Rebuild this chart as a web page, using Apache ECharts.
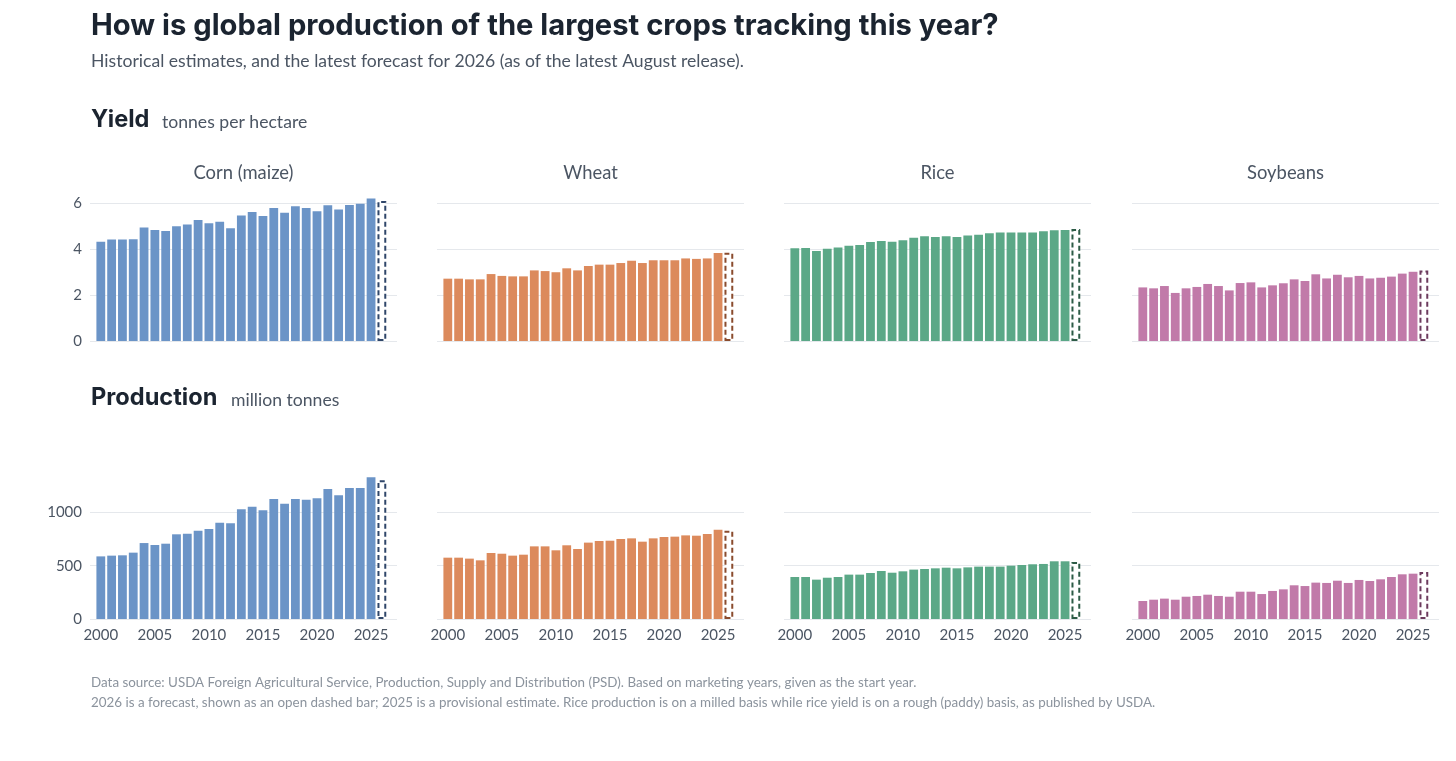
<!DOCTYPE html>
<html>
<head>
<meta charset="utf-8">
<title>Global crop production</title>
<script src="https://cdn.jsdelivr.net/npm/echarts@6/dist/echarts.min.js"></script>
<style>
  html, body { margin: 0; padding: 0; background: #fff; }
  #main { width: 1456px; height: 761px; }
</style>
</head>
<body>
<div id="main"></div>
<script>
// marketing years, 2026 is the forecast
const years = [2000, 2001, 2002, 2003, 2004, 2005, 2006, 2007, 2008, 2009, 2010, 2011, 2012, 2013,
  2014, 2015, 2016, 2017, 2018, 2019, 2020, 2021, 2022, 2023, 2024, 2025, 2026];
const cropNames = ['Corn (maize)', 'Wheat', 'Rice', 'Soybeans'];
const xTickYears = [2000, 2005, 2010, 2015, 2020, 2025];

// yield, tonnes per hectare
const cornYield = [4.32, 4.41, 4.41, 4.42, 4.93, 4.83, 4.78, 4.99, 5.06, 5.26, 5.12, 5.19, 4.90, 5.46,
  5.61, 5.43, 5.78, 5.58, 5.86, 5.78, 5.64, 5.90, 5.72, 5.91, 5.97, 6.20, 6.09];
const wheatYield = [2.71, 2.71, 2.68, 2.68, 2.91, 2.83, 2.81, 2.81, 3.07, 3.04, 2.99, 3.16, 3.07, 3.26,
  3.32, 3.32, 3.39, 3.49, 3.39, 3.51, 3.51, 3.51, 3.59, 3.57, 3.59, 3.83, 3.84];
const riceYield = [4.03, 4.04, 3.91, 4.01, 4.07, 4.14, 4.17, 4.30, 4.35, 4.32, 4.38, 4.49, 4.55, 4.52,
  4.55, 4.52, 4.59, 4.62, 4.68, 4.72, 4.72, 4.72, 4.72, 4.77, 4.81, 4.83, 4.87];
const soyYield = [2.33, 2.29, 2.39, 2.09, 2.29, 2.35, 2.48, 2.39, 2.20, 2.52, 2.55, 2.33, 2.42, 2.51,
  2.68, 2.61, 2.90, 2.72, 2.88, 2.77, 2.83, 2.72, 2.75, 2.80, 2.93, 3.01, 3.06];

// production, million tonnes
const cornProd = [587, 594, 597, 622, 712, 694, 706, 794, 800, 828, 844, 903, 897, 1028,
  1053, 1019, 1125, 1081, 1125, 1119, 1131, 1219, 1159, 1228, 1228, 1328, 1300];
const wheatProd = [575, 575, 566, 550, 619, 612, 594, 603, 681, 681, 644, 691, 656, 716,
  731, 734, 750, 756, 725, 756, 769, 772, 784, 781, 797, 837, 828];
const riceProd = [394, 394, 369, 387, 394, 416, 416, 431, 450, 434, 447, 463, 469, 475,
  481, 475, 484, 491, 491, 491, 500, 506, 513, 516, 541, 541, 534];
const soyProd = [169, 181, 191, 181, 209, 216, 228, 216, 209, 256, 256, 234, 263, 278,
  316, 309, 341, 338, 359, 338, 366, 356, 372, 394, 419, 425, 441];

const yieldRows = [cornYield, wheatYield, riceYield, soyYield];
const prodRows = [cornProd, wheatProd, riceProd, soyProd];

const barColors = ['#6b94c7', '#dc8a5c', '#5ba887', '#c17aa9'];
const dashColors = ['#2f4669', '#8a4b2d', '#2c5b46', '#6c3a5d'];

const gridLefts = [90, 437, 784, 1132];
const gridWidth = 307;
const rows = [
  { data: yieldRows, top: 203, height: 138, max: 6, interval: 2 },
  { data: prodRows, top: 459, height: 160, max: 1500, interval: 500 },
];

const gridColor = '#e5e8ec';
const labelColor = '#4b5563';

const grids = [];
const xAxes = [];
const yAxes = [];
const series = [];

rows.forEach((row, r) => {
  row.data.forEach((values, i) => {
    const k = grids.length;
    grids.push({ left: gridLefts[i], top: row.top, width: gridWidth, height: row.height });
    xAxes.push({
      gridIndex: k,
      type: 'value',
      min: 1999,
      max: 2027.4,
      interval: 1,
      axisLine: { show: false },
      axisTick: { show: false },
      splitLine: { show: false },
      axisLabel: {
        show: r === 1,
        margin: 9,
        color: labelColor,
        fontFamily: 'Lato',
        fontSize: 15,
        formatter: v => (xTickYears.indexOf(v) >= 0 ? String(v) : ''),
      },
    });
    yAxes.push({
      gridIndex: k,
      type: 'value',
      min: 0,
      max: row.max,
      interval: row.interval,
      axisLine: { show: false },
      axisTick: { show: false },
      splitLine: {
        lineStyle: { color: r === 1 ? [gridColor, gridColor, gridColor, 'rgba(0,0,0,0)'] : gridColor, width: 1 },
      },
      axisLabel: {
        show: i === 0,
        showMaxLabel: r === 0,
        margin: 8,
        color: labelColor,
        fontFamily: 'Lato',
        fontSize: 15,
        formatter: v => String(v),
      },
    });
    const last = years.length - 1;
    series.push({
      type: 'bar',
      xAxisIndex: k,
      yAxisIndex: k,
      barWidth: 8.8,
      barGap: '-100%',
      clip: false,
      silent: true,
      itemStyle: { color: barColors[i] },
      data: years.slice(0, last).map((y, j) => [y, values[j]]),
    });
    series.push({
      type: 'bar',
      xAxisIndex: k,
      yAxisIndex: k,
      barWidth: 8.8,
      barGap: '-100%',
      clip: false,
      silent: true,
      itemStyle: {
        color: '#ffffff',
        borderColor: dashColors[i],
        borderWidth: 2,
        borderType: [5, 3],
      },
      data: [[years[last], values[last]]],
    });
  });
});

const textItems = [
  { x: 91, y: 26, text: 'How is global production of the largest crops tracking this year?', font: 'bold 29.2px Inter', fill: '#1b2430' },
  { x: 91, y: 61, text: 'Historical estimates, and the latest forecast for 2026 (as of the latest August release).', font: '17.6px Lato', fill: '#4b5563' },
  { x: 91, y: 120, text: 'Yield', font: 'bold 23.6px Inter', fill: '#1b2430' },
  { x: 162, y: 122, text: 'tonnes per hectare', font: '17.6px Lato', fill: '#4b5563' },
  { x: 91, y: 398, text: 'Production', font: 'bold 23.6px Inter', fill: '#1b2430' },
  { x: 231, y: 400, text: 'million tonnes', font: '17.6px Lato', fill: '#4b5563' },
  { x: 91, y: 683, text: 'Data source: USDA Foreign Agricultural Service, Production, Supply and Distribution (PSD). Based on marketing years, given as the start year.', font: '13.4px Lato', fill: '#8b939d' },
  { x: 91, y: 703, text: '2026 is a forecast, shown as an open dashed bar; 2025 is a provisional estimate. Rice production is on a milled basis while rice yield is on a rough (paddy) basis, as published by USDA.', font: '13.4px Lato', fill: '#8b939d' },
];

const graphics = textItems.map(t => ({
  type: 'text',
  x: t.x,
  y: t.y,
  silent: true,
  style: { text: t.text, font: t.font, fill: t.fill, align: 'left', verticalAlign: 'middle' },
}));

cropNames.forEach((name, i) => {
  graphics.push({
    type: 'text',
    x: gridLefts[i] + gridWidth / 2,
    y: 173,
    silent: true,
    style: { text: name, font: '18.4px Lato', fill: '#4b5563', align: 'center', verticalAlign: 'middle' },
  });
});

const chart = echarts.init(document.getElementById('main'));
chart.setOption({
  animation: false,
  backgroundColor: '#ffffff',
  grid: grids,
  xAxis: xAxes,
  yAxis: yAxes,
  series,
  graphic: graphics,
});
</script>
</body>
</html>
